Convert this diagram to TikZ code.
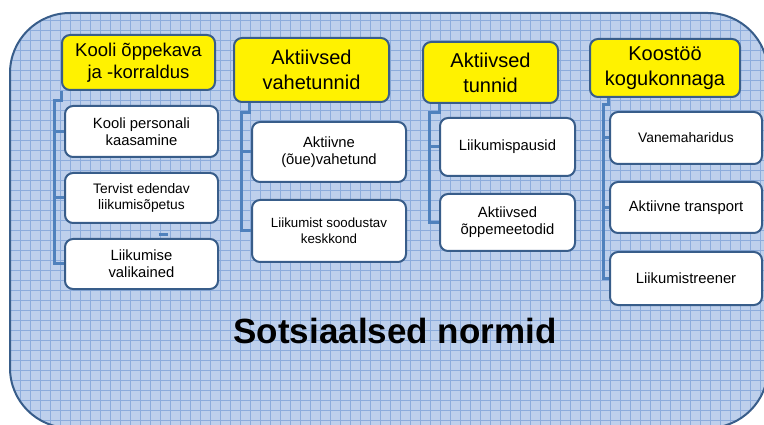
\documentclass[tikz,border=0pt]{standalone}
\usepackage{fontspec}
\setmainfont{Liberation Sans}
\usetikzlibrary{positioning}
\pgfdeclarelayer{bg}
\pgfsetlayers{bg,main}
\definecolor{frameblue}{RGB}{56,93,138}
\definecolor{linkblue}{RGB}{79,129,189}
\definecolor{normfill}{RGB}{190,208,236}
\definecolor{gridblue}{RGB}{140,172,220}

\begin{document}
\begin{tikzpicture}[x=1pt,y=-1pt,
    head node/.style={draw=frameblue,line width=2pt,fill=yellow,rounded corners=8pt,
      align=center,inner sep=0pt,font=\fontsize{20}{25}\selectfont},
    item node/.style={draw=frameblue,line width=2pt,fill=white,rounded corners=8pt,
      align=center,inner sep=0pt,minimum width=153pt,font=\fontsize{14.8}{17}\selectfont},
    link/.style={linkblue,line width=3pt}]
        \useasboundingbox (0,0) rectangle (764,425);

        % headers
        \node[head node,minimum width=153pt,minimum height=55pt,font=\fontsize{18.5}{22}\selectfont] (kool) at (138.5,62.5) {Kooli õppekava\\ja -korraldus};
        \node[head node,minimum width=155pt,minimum height=64pt] (vahe) at (311.5,70) {Aktiivsed\\vahetunnid};
        \node[head node,minimum width=135pt,minimum height=61pt] (tund) at (490.5,72.5) {Aktiivsed\\tunnid};
        \node[head node,minimum width=150pt,minimum height=58pt] (koos) at (665,68) {Koostöö\\kogukonnaga};

        % items
        \node[item node,minimum height=51pt] (pers) at (141.5,131.5) {Kooli personali\\kaasamine};
        \node[item node,minimum height=50pt,font=\fontsize{13.8}{16}\selectfont] (opet) at (141.5,198) {Tervist edendav\\liikumisõpetus};
        \node[item node,minimum height=50pt] (vali) at (141.5,264) {Liikumise\\valikained};
        \node[item node,minimum width=154pt,minimum height=60pt] (oue) at (329,152) {Aktiivne\\(õue)vahetund};
        \node[item node,minimum width=154pt,minimum height=62pt,font=\fontsize{13.3}{16}\selectfont] (kesk) at (329,231) {Liikumist soodustav\\keskkond};
        \node[item node,minimum width=135pt,minimum height=58pt] (paus) at (507.5,147) {Liikumispausid};
        \node[item node,minimum width=135pt,minimum height=57pt] (meet) at (507.5,222.5) {Aktiivsed\\õppemeetodid};
        \node[item node,minimum width=152pt,minimum height=52pt,font=\fontsize{13.8}{16}\selectfont] (vanem) at (686,138) {Vanemaharidus};
        \node[item node,minimum width=152pt,minimum height=51pt] (trans) at (686,207.5) {Aktiivne transport};
        \node[item node,minimum width=152pt,minimum height=53pt] (treen) at (686,278.5) {Liikumistreener};

        \node[anchor=base,font=\fontsize{35}{40}\selectfont\bfseries] (norm) at (395,343) {Sotsiaalsed normid};

        \begin{pgfonlayer}{bg}
        \fill[normfill,rounded corners=60pt] (10,13) rectangle (768,428);
        \begin{scope}
            \clip[rounded corners=60pt] (10,13) rectangle (768,428);
            \draw[gridblue,line width=0.8pt,step=10pt] (0,0) grid (770,430);
        \end{scope}
        \draw[frameblue,line width=2pt,rounded corners=60pt] (10,13) rectangle (768,428);

        % connectors
        \coordinate (k1) at (54,101);
        \coordinate (k2) at (241,113);
        \coordinate (k3) at (429,113);
        \coordinate (k4) at (603,105);
        \draw[link] (kool.south west) |- (k1) |- (vali.west);
        \draw[link] (k1 |- pers.west) -- (pers.west);
        \draw[link] (k1 |- opet.west) -- (opet.west);
        \draw[link] ([xshift=17pt,yshift=-11pt]opet.south) -- ++(9,0);
        \draw[link] ([xshift=16pt]vahe.south west) |- (k2) |- (kesk.west);
        \draw[link] (k2 |- oue.west) -- (oue.west);
        \draw[link] ([xshift=17pt]tund.south west) |- (k3) |- (meet.west);
        \draw[link] (k3 |- paus.west) -- (paus.west);
        \draw[link] ([xshift=19pt]koos.south west) |- (k4) |- (treen.west);
        \draw[link] (k4 |- vanem.west) -- (vanem.west);
        \draw[link] (k4 |- trans.west) -- (trans.west);
        \end{pgfonlayer}
\end{tikzpicture}
\end{document}
